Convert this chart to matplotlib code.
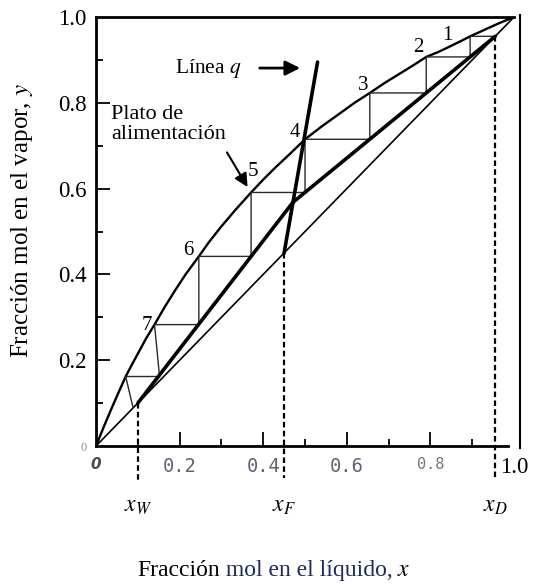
import matplotlib.pyplot as plt

plt.rcParams['font.family'] = ['Liberation Serif', 'DejaVu Serif']
plt.rcParams['mathtext.fontset'] = 'stix'

# equilibrium curve, points taken along the curve
x_eq = [0, 0.01, 0.02, 0.03, 0.04, 0.055, 0.071, 0.085, 0.10, 0.12, 0.14, 0.165,
        0.19, 0.215, 0.246, 0.27, 0.30, 0.335, 0.371, 0.40, 0.43, 0.465, 0.50,
        0.54, 0.58, 0.62, 0.655, 0.69, 0.72, 0.755, 0.79, 0.82, 0.85, 0.875,
        0.895, 0.92, 0.94, 0.97, 1.0]
y_eq = [0, 0.024, 0.048, 0.071, 0.094, 0.127, 0.162, 0.188, 0.215, 0.251, 0.283, 0.325,
        0.364, 0.401, 0.442, 0.475, 0.512, 0.552, 0.591, 0.621, 0.650, 0.682, 0.715,
        0.745, 0.773, 0.801, 0.823, 0.846, 0.864, 0.885, 0.907, 0.919, 0.933, 0.945,
        0.955, 0.966, 0.975, 0.988, 1.0]

# bottoms, feed and distillate compositions
x_w, x_f, x_d = 0.10, 0.45, 0.955

# operating lines and q-line (end points)
rect_x = [0.955, 0.471]
rect_y = [0.955, 0.568]
strip_x = [0.471, 0.10]
strip_y = [0.568, 0.10]
q_x = [0.45, 0.53]
q_y = [0.45, 0.895]

# stage stepping, top to bottom
step_x = [0.955, 0.895, 0.895, 0.79, 0.79, 0.655, 0.655, 0.50, 0.50, 0.371,
          0.371, 0.246, 0.246, 0.14, 0.152, 0.071, 0.088]
step_y = [0.955, 0.955, 0.907, 0.907, 0.823, 0.823, 0.715, 0.715, 0.591, 0.591,
          0.442, 0.442, 0.283, 0.283, 0.162, 0.162, 0.092]

# stage numbers
stage_lbl = ['1', '2', '3', '4', '5', '6', '7']
stage_lx = [0.84, 0.77, 0.639, 0.476, 0.376, 0.222, 0.122]
stage_ly = [0.958, 0.928, 0.841, 0.730, 0.639, 0.455, 0.282]

xtick_pos = [0, 0.2, 0.4, 0.6, 0.8, 1.0]
xtick_lbl = ['0', '0.2', '0.4', '0.6', '0.8', '1.0']
ytick_pos = [0, 0.2, 0.4, 0.6, 0.8, 1.0]
ytick_lbl = ['0', '0.2', '0.4', '0.6', '0.8', '1.0']

fig = plt.figure(figsize=(5.36, 5.85), dpi=100)
ax = fig.add_axes([0.1791, 0.2376, 0.7799, 0.7333])
ax.set_xlim(0, 1)
ax.set_ylim(0, 1)

# curves
ax.plot([0, 1], [0, 1], color='k', lw=1.2)
ax.plot(x_eq, y_eq, color='k', lw=1.7)
ax.plot(step_x, step_y, color='#2a2a2a', lw=1.0)
ax.plot(rect_x, rect_y, color='k', lw=2.6, solid_capstyle='round')
ax.plot(strip_x, strip_y, color='k', lw=2.6, solid_capstyle='round')
ax.plot(q_x, q_y, color='k', lw=2.6, solid_capstyle='round', clip_on=False)

# composition markers
dash = (0, (2.5, 1.5))
ax.plot([x_w, x_w], [x_w, -0.08], color='k', lw=1.6, ls=dash, clip_on=False)
ax.plot([x_f, x_f], [x_f, -0.075], color='k', lw=1.6, ls=dash, clip_on=False)
ax.plot([x_d, x_d], [x_d, -0.08], color='k', lw=1.6, ls=dash, clip_on=False)

# frame
ax.spines['right'].set_visible(False)
for side in ['left', 'bottom', 'top']:
    ax.spines[side].set_linewidth(2)
ax.spines['bottom'].set_bounds(0, 0.985)
ax.plot([1.015, 1.015], [-0.004, 1.005], color='k', lw=1.5, clip_on=False)

# ticks
ax.set_xticks(xtick_pos)
ax.set_xticklabels(xtick_lbl)
ax.set_xticks([0.1, 0.3, 0.5, 0.7, 0.9], minor=True)
ax.set_yticks(ytick_pos)
ax.set_yticklabels(ytick_lbl)
ax.set_yticks([0.1, 0.3, 0.5, 0.7, 0.9], minor=True)
ax.tick_params(which='major', direction='in', length=10, width=1.3)
ax.tick_params(which='minor', direction='in', length=5, width=1.3)
ax.tick_params(axis='x', which='major', pad=8)
ax.tick_params(axis='y', which='major', pad=7)
for ticks in (ax.xaxis.get_major_ticks(), ax.yaxis.get_major_ticks()):
    ticks[0].tick1line.set_visible(False)
    ticks[-1].tick1line.set_visible(False)

for lbl in ax.get_xticklabels():
    lbl.set_fontfamily('DejaVu Sans Mono')
    lbl.set_fontsize(13.5)
    lbl.set_color('#5b6475')
xl = ax.get_xticklabels()
xl[0].set_fontfamily('DejaVu Sans')
xl[0].set_fontweight('bold')
xl[0].set_fontstyle('italic')
xl[0].set_fontsize(11)
xl[0].set_color('#4a4a55')
xl[4].set_fontsize(11)
xl[4].set_color('#7a7468')
xl[5].set_fontfamily(['Liberation Serif'])
xl[5].set_fontsize(16.5)
xl[5].set_color('k')
for lbl in ax.get_yticklabels():
    lbl.set_fontsize(16.5)
yl = ax.get_yticklabels()
yl[0].set_fontsize(9)
yl[0].set_color('#8a8fa0')

# composition labels
for xv, name in [(x_w, '$x_W$'), (x_f, '$x_F$'), (x_d, '$x_D$')]:
    ax.text(xv, -0.142, name, fontsize=17, ha='center', va='center')

# stage numbers
for s, sx, sy in zip(stage_lbl, stage_lx, stage_ly):
    ax.text(sx, sy, s, fontsize=15, ha='center', va='center')

# annotations
ax.text(0.19, 0.881, 'Línea $q$', fontsize=15.5, ha='left', va='center')
ax.annotate('', xy=(0.495, 0.881), xytext=(0.385, 0.881),
            arrowprops=dict(arrowstyle='-|>', color='k', lw=2, mutation_scale=22))
ax.text(0.036, 0.795, 'Plato de\nalimentación', fontsize=16, ha='left', va='top',
        linespacing=1.05)
ax.annotate('', xy=(0.366, 0.598), xytext=(0.31, 0.69),
            arrowprops=dict(arrowstyle='-|>', color='k', lw=1.5, mutation_scale=20))

# axis titles
fig.text(22 / 536, 1 - 220 / 585, 'Fracción mol en el vapor, $y$', fontsize=18,
         rotation=90, ha='center', va='center')
t1 = fig.text(137 / 536, 1 - 576 / 585, 'Fracción', fontsize=17, ha='left',
              va='baseline')
t2 = ax.annotate(' mol en el líquido,', xy=(1, 0), xycoords=t1, fontsize=17,
                 color='#1d2a5c', ha='left', va='bottom', annotation_clip=False)
ax.annotate(' $x$', xy=(1, 0), xycoords=t2, fontsize=17, ha='left', va='bottom',
            annotation_clip=False)

fig.savefig('out.png', dpi=100)
